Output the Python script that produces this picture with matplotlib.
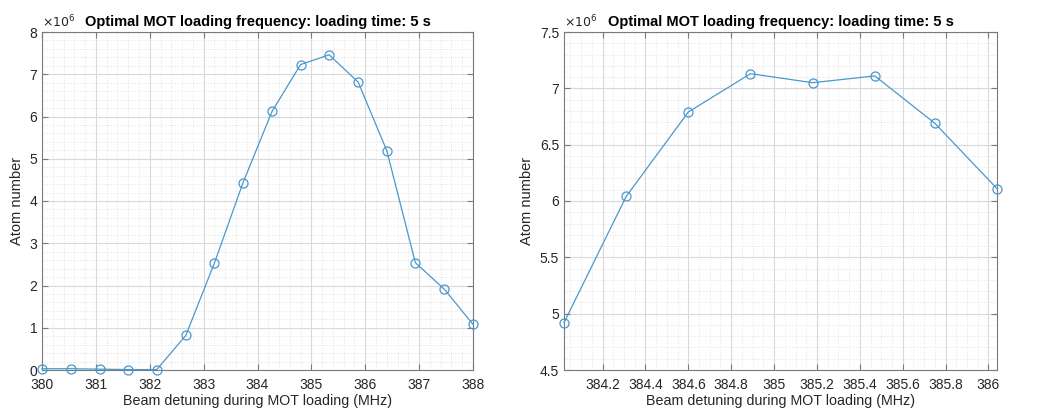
import numpy as np
import matplotlib
matplotlib.use("Agg")
import matplotlib.pyplot as plt
from matplotlib.ticker import MultipleLocator, AutoMinorLocator

plt.rcParams["font.family"] = ["Liberation Sans", "DejaVu Sans"]

# scan 1: wide detuning scan
detuning_wide = [380.0, 380.53, 381.07, 381.6, 382.13, 382.67, 383.2, 383.73,
                 384.27, 384.8, 385.33, 385.87, 386.4, 386.93, 387.47, 388.0]
atoms_wide = [0.03, 0.03, 0.02, 0.01, 0.01, 0.82, 2.53, 4.43,
              6.12, 7.23, 7.46, 6.81, 5.19, 2.54, 1.91, 1.08]

# scan 2: fine scan around the maximum
detuning_fine = [384.02, 384.31, 384.6, 384.89, 385.18, 385.47, 385.75, 386.04]
atoms_fine = [4.92, 6.04, 6.79, 7.13, 7.05, 7.11, 6.69, 6.11]

title = "Optimal MOT loading frequency: loading time: 5 s"
xlabel = "Beam detuning during MOT loading (MHz)"
ylabel = "Atom number"

line_color = "#4a98cc"
text_color = "#262626"
spine_color = "#7a7a7a"


def style_axes(ax, x_minor, y_minor):
    ax.xaxis.set_minor_locator(AutoMinorLocator(x_minor))
    ax.yaxis.set_minor_locator(AutoMinorLocator(y_minor))
    ax.grid(True, which="major", color="#d9d9d9", lw=0.8)
    ax.grid(True, which="minor", color="#dedede", lw=0.6, ls=":")
    ax.set_axisbelow(True)
    ax.tick_params(which="both", direction="in", top=True, right=True,
                   colors=spine_color, labelcolor=text_color, labelsize=10)
    ax.tick_params(which="major", length=4)
    ax.tick_params(which="minor", length=0)
    ax.tick_params(axis="x", pad=6)
    for s in ax.spines.values():
        s.set_color(spine_color)
        s.set_linewidth(0.8)
    ax.set_title(title, fontsize=10.5, fontweight="bold", color="black", pad=4)
    ax.set_xlabel(xlabel, fontsize=10.3, color=text_color, labelpad=1)
    ax.set_ylabel(ylabel, fontsize=10.5, color=text_color, labelpad=4)
    ax.text(0.0, 1.005, r"$\times10^6$", transform=ax.transAxes,
            fontsize=9, color=text_color, ha="left", va="bottom")


fig = plt.figure(figsize=(10.4, 4.13), dpi=100)

ax1 = fig.add_axes([42 / 1040, 43 / 413, 431 / 1040, 338 / 413])
ax1.plot(detuning_wide, atoms_wide, "-o", color=line_color, lw=0.9,
         mfc="none", mec=line_color, ms=6.5, mew=0.9, clip_on=False, zorder=3)
ax1.set_xlim(380, 388)
ax1.set_ylim(0, 8)
ax1.xaxis.set_major_locator(MultipleLocator(1))
ax1.yaxis.set_major_locator(MultipleLocator(1))
style_axes(ax1, 5, 5)

ax2 = fig.add_axes([564 / 1040, 43 / 413, 433 / 1040, 338 / 413])
ax2.plot(detuning_fine, atoms_fine, "-o", color=line_color, lw=0.9,
         mfc="none", mec=line_color, ms=6.5, mew=0.9, clip_on=False, zorder=3)
ax2.set_xlim(detuning_fine[0], detuning_fine[-1])
ax2.set_ylim(4.5, 7.5)
xt = np.round(np.arange(384.2, 386.01, 0.2), 1)
ax2.set_xticks(xt)
ax2.set_xticklabels([f"{v:g}" for v in xt])
yt = np.arange(4.5, 7.51, 0.5)
ax2.set_yticks(yt)
ax2.set_yticklabels([f"{v:g}" for v in yt])
style_axes(ax2, 4, 5)

fig.savefig("out.png", dpi=100)
